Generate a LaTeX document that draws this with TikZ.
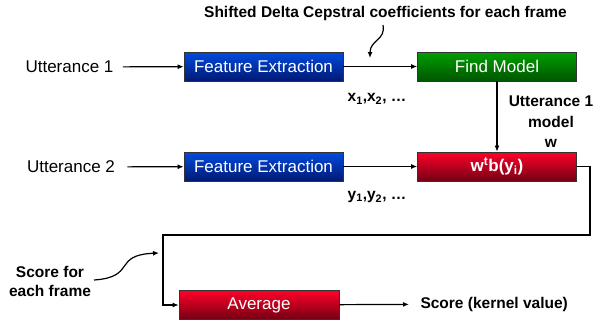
\documentclass[tikz,border=0pt]{standalone}
\usepackage{fontspec}
\setmainfont{Liberation Sans}
\usetikzlibrary{arrows.meta}
\definecolor{fetop}{RGB}{0,75,225}
\definecolor{febot}{RGB}{0,25,115}
\definecolor{mdtop}{RGB}{0,160,0}
\definecolor{mdbot}{RGB}{0,85,0}
\definecolor{sctop}{RGB}{255,0,40}
\definecolor{scbot}{RGB}{115,0,20}

\begin{document}
\begin{tikzpicture}[x=1pt, y=-1pt, font=\fontsize{17}{20}\selectfont,
    box/.style={draw=black!80, line width=0.6pt, minimum width=159pt, minimum height=29pt, inner sep=0pt, text=white},
    bluebox/.style={box, top color=fetop, middle color=fetop, bottom color=febot},
    greenbox/.style={box, top color=mdtop, middle color=mdtop, bottom color=mdbot},
    redbox/.style={box, top color=sctop, middle color=sctop, bottom color=scbot},
    lbl/.style={font=\fontsize{15.5}{19}\selectfont\bfseries, align=center},
    arr/.style={-{Latex[length=6pt,width=5pt]}, line width=1.2pt}]
    \useasboundingbox (0,0) rectangle (593,325);

    % Caption on the features
    \node[lbl] (sdc) at (385.5,13) {Shifted Delta Cepstral coefficients for each frame};
    \coordinate (sdcstart) at (383,25);
    \coordinate (sdctip) at (370,58);
    \draw[arr] (sdcstart) .. controls (386,40) and (370,40) .. (sdctip);

    % Utterance 1
    \node (utta) at (69.5,67) {Utterance 1};
    \node[bluebox] (fea) at (263.5,66.5) {Feature Extraction};
    \node[greenbox] (model) at (497,66.5) {Find Model};
    \draw[arr, shorten <=6pt] (utta) -- (fea);
    \draw[arr] (fea) -- (model);
    \node[lbl] (xs) at (377,99) {x\textsubscript{1},x\textsubscript{2}, \dots};
    \node[lbl, font=\fontsize{15.5}{20.5}\selectfont\bfseries] (wlbl) at (551,122) {Utterance 1\\model\\w};

    % Utterance 2
    \node (uttb) at (71,167) {Utterance 2};
    \node[bluebox] (feb) at (263.5,166.5) {Feature Extraction};
    \node[redbox] (wtb) at (497,166.5) {\textbf{w\textsuperscript{t}b(y\textsubscript{i})}};
    \draw[arr, shorten <=9pt] (uttb) -- (feb);
    \draw[arr] (feb) -- (wtb);
    \draw[arr] (model) -- (wtb);
    \node[lbl] (ys) at (377,197) {y\textsubscript{1},y\textsubscript{2}, \dots};

    % Frame scores to the average
    \coordinate (rturn) at (590,235);
    \coordinate (lturn) at (163,235);
    \node[redbox, minimum width=160pt] (avg) at (259,305) {Average};
    \draw[arr] (wtb.east) -| (rturn) -- (lturn) |- (avg.west);
    \node[lbl, anchor=west] (score) at (417,304) {Score (kernel value)};
    \draw[arr, shorten >=8pt] (avg) -- (score);

    \node[lbl] (sfe) at (50,281) {Score for\\each frame};
    \coordinate (sfestart) at (94,280);
    \coordinate (sfetip) at (159,253);
    \draw[arr] (sfestart) .. controls (137,277) and (112,255) .. (sfetip);
\end{tikzpicture}
\end{document}
